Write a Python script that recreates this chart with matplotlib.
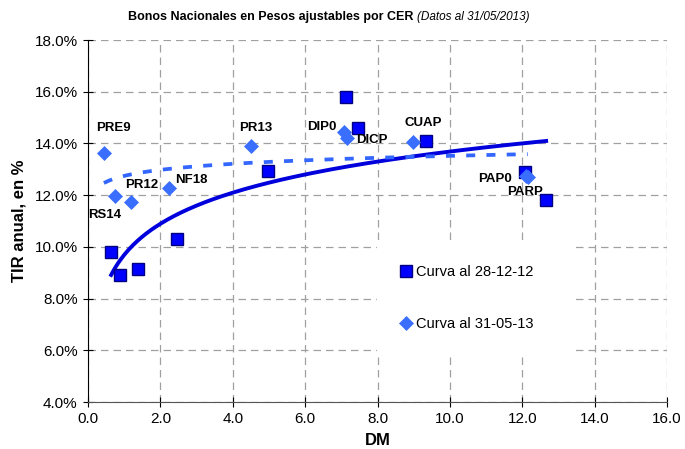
import numpy as np
import matplotlib
matplotlib.use("Agg")
import matplotlib.pyplot as plt
from matplotlib.ticker import FuncFormatter, MultipleLocator

plt.rcParams['font.family'] = ['Liberation Sans', 'DejaVu Sans']

# Curva al 28-12-12 (cuadrados)
dm_dic = [0.64, 0.88, 1.38, 2.46, 4.97, 7.12, 7.47, 9.33, 12.07, 12.66]
tir_dic = [9.8, 8.9, 9.15, 10.3, 12.95, 15.8, 14.6, 14.1, 12.9, 11.8]

# Curva al 31-05-13 (rombos)
bonos = ["PRE9", "RS14", "PR12", "NF18", "PR13", "DIP0", "DICP", "CUAP", "PAP0", "PARP"]
dm_may = [0.44, 0.75, 1.19, 2.24, 4.50, 7.08, 7.17, 8.99, 12.09, 12.15]
tir_may = [13.62, 11.97, 11.75, 12.26, 13.9, 14.45, 14.2, 14.05, 12.75, 12.7]

# desplazamiento de etiquetas (pixeles)
label_off = [(10, 25), (-10, -19), (11, 17), (22, 8), (5, 18),
             (-22, 5), (24, -2), (10, 19), (-31, -3), (-3, -15)]

fig = plt.figure(figsize=(6.85, 4.49), dpi=100)
ax = fig.add_axes([88/685, 47/449, 579/685, 362/449])

ax.set_xlim(0, 16)
ax.set_ylim(4, 18)
ax.xaxis.set_major_locator(MultipleLocator(2))
ax.yaxis.set_major_locator(MultipleLocator(2))
ax.xaxis.set_major_formatter(FuncFormatter(lambda v, p: "%.1f" % v))
ax.yaxis.set_major_formatter(FuncFormatter(lambda v, p: "%.1f%%" % v))
ax.grid(True, color="#a0a0a0", linestyle=(0, (6, 4)), linewidth=0.9)
ax.set_axisbelow(True)
for s in ["top", "right"]:
    ax.spines[s].set_visible(False)
ax.spines["left"].set_color("black")
ax.spines["bottom"].set_color("#555555")
ax.tick_params(direction="inout", length=7, labelsize=11, pad=4)

# lineas de tendencia logaritmicas
def log_trend(x, y):
    b, a = np.polyfit(np.log(x), y, 1)
    xs = np.linspace(min(x), max(x), 200)
    return xs, a + b * np.log(xs)

xs, ys = log_trend(dm_dic, tir_dic)
ax.plot(xs, ys, color="#0000DD", lw=2.8, zorder=3)
xs, ys = log_trend(dm_may, tir_may)
ax.plot(xs, ys, color="#3366FF", lw=2.7, linestyle=(0, (2.4, 3.0)), zorder=3)

ax.plot(dm_dic, tir_dic, "s", ms=8, mfc="#0000FF", mec="#000080", mew=1,
        ls="none", zorder=4, label="Curva al 28-12-12")
ax.plot(dm_may, tir_may, "D", ms=7, mfc="#3A6EFF", mec="#3A6EFF", mew=0.5,
        ls="none", zorder=5, label="Curva al 31-05-13")

for name, x, y, off in zip(bonos, dm_may, tir_may, label_off):
    ax.annotate(name, (x, y), xytext=off, textcoords="offset pixels",
                ha="center", va="center", fontsize=9.5, fontweight="bold", zorder=6)

leg = ax.legend(loc="upper left", bbox_to_anchor=(289/579, 157/362, 194/579, 0),
                mode="expand", borderaxespad=0, fontsize=10.5,
                frameon=True, fancybox=False, edgecolor="white", framealpha=1,
                handletextpad=0.1, labelspacing=2.6, borderpad=1.4, handlelength=1.2,
                markerscale=1.0)

ax.set_xlabel("DM", fontsize=12, fontweight="bold", labelpad=5)
ax.set_ylabel("TIR anual, en %", fontsize=12, fontweight="bold", labelpad=6)

fig.text(0.603, 0.962, "Bonos Nacionales en Pesos ajustables por CER", ha="right",
         va="center", fontsize=9, fontweight="bold")
fig.text(0.609, 0.962, "(Datos al 31/05/2013)", ha="left", va="center",
         fontsize=8.5, style="italic")

fig.savefig("out.png", dpi=100)
